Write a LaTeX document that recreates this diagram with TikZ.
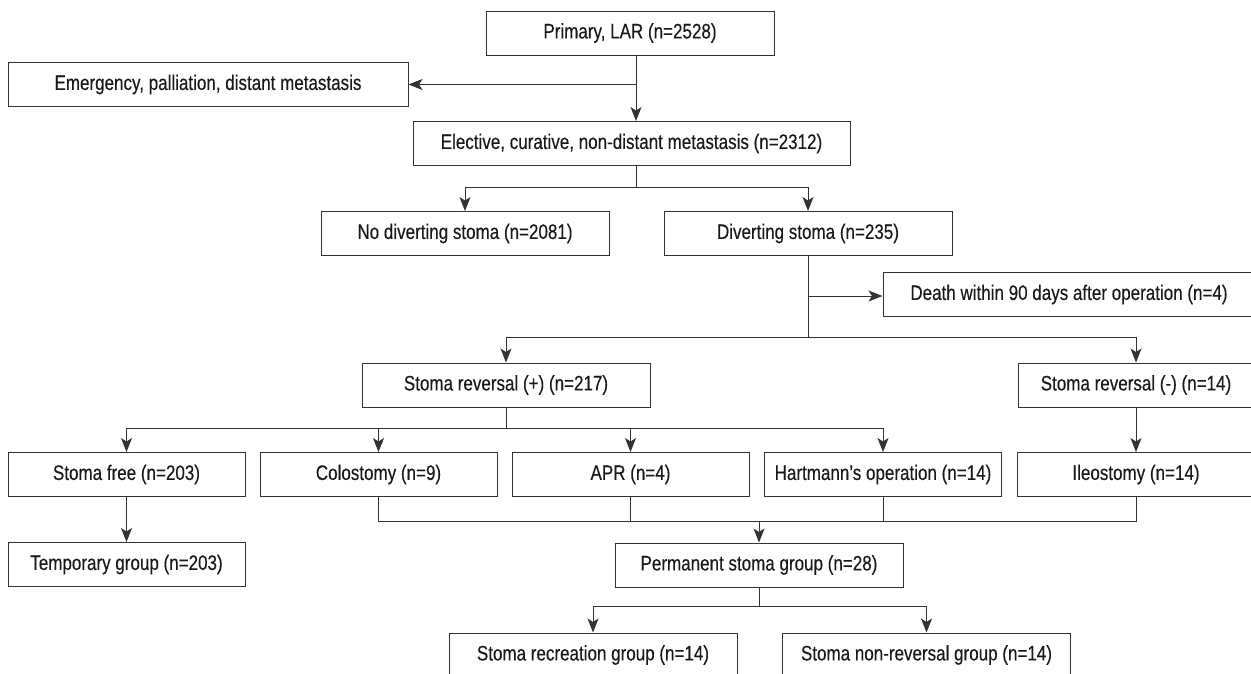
\documentclass[tikz,border=0pt]{standalone}
\usepackage{fontspec}
\setmainfont[FakeStretch=0.81]{Liberation Sans}
\newfontfamily\boxfont[FakeStretch=0.81,FakeBold=0.25]{Liberation Sans}
\usetikzlibrary{arrows.meta}
\begin{document}
\begin{tikzpicture}[x=1pt,y=-1pt,
  box/.style={draw=black!80, line width=1pt, rectangle, inner sep=0pt,
    minimum height=44pt, text=black!90, font=\boxfont\fontsize{21}{24}\selectfont},
  wide/.style={box, minimum width=288pt},
  narrow/.style={box, minimum width=237pt},
  conn/.style={draw=black!80, line width=1pt},
  arr/.style={conn, -{Stealth[length=14pt,width=11pt,inset=3.5pt]}}]
\useasboundingbox (0,0) rectangle (1251,673);
% nodes
\node[wide] (primary) at (630,33) {Primary, LAR (n=2528)};
\node[box, minimum width=400pt] (emerg) at (208,84.5) {Emergency, palliation, distant metastasis};
\node[box, minimum width=437pt] (elective) at (631.5,143.5) {Elective, curative, non-distant metastasis (n=2312)};
\node[wide] (nodiv) at (465,233.5) {No diverting stoma (n=2081)};
\node[wide] (div) at (808,233.5) {Diverting stoma (n=235)};
\node[box, minimum width=372pt] (death) at (1069,294.5) {Death within 90 days after operation (n=4)};
\node[wide] (srplus) at (506,385) {Stoma reversal (+) (n=217)};
\node[box, minimum width=236pt] (srminus) at (1136,385) {Stoma reversal (-) (n=14)};
\node[narrow] (sfree) at (126.5,474.5) {Stoma free (n=203)};
\node[narrow] (colo) at (378.5,474.5) {Colostomy (n=9)};
\node[narrow] (apr) at (630.5,474.5) {APR (n=4)};
\node[narrow] (hart) at (883,474.5) {Hartmann’s operation (n=14)};
\node[narrow] (ileo) at (1136,474.5) {Ileostomy (n=14)};
\node[narrow] (temp) at (126.5,564.5) {Temporary group (n=203)};
\node[wide] (perm) at (759,565) {Permanent stoma group (n=28)};
\node[wide] (srec) at (593,655) {Stoma recreation group (n=14)};
\node[wide] (snon) at (926.5,655) {Stoma non-reversal group (n=14)};
% branch coordinates
\coordinate (t1) at (636,55);
\coordinate (e1) at (636,84.5);
\coordinate (b1) at (636,187);
\coordinate (b2) at (808,337);
\coordinate (d1) at (808,296);
\coordinate (b3) at (506,428);
\coordinate (m) at (759,521);
\coordinate (b4) at (759,606);
% connectors
\draw[arr] (t1) -- (t1 |- elective.north);
\draw[arr] (e1) -- (emerg.east);
\draw[conn] (b1 |- elective.south) -- (b1);
\draw[arr] (b1) -| (nodiv.north);
\draw[arr] (b1) -| (div.north);
\draw[conn] (div.south) -- (b2);
\draw[arr] (d1) -- (d1 -| death.west);
\draw[arr] (b2) -| (srplus.north);
\draw[arr] (b2) -| (srminus.north);
\draw[conn] (srplus.south) -- (b3);
\draw[arr] (b3) -| (sfree.north);
\draw[arr] (b3) -| (colo.north);
\draw[arr] (b3) -| (apr.north);
\draw[arr] (b3) -| (hart.north);
\draw[arr] (srminus.south) -- (ileo.north);
\draw[arr] (sfree.south) -- (temp.north);
\draw[conn] (colo.south) |- (m);
\draw[conn] (ileo.south) |- (m);
\draw[conn] (apr.south) -- (apr.south |- m);
\draw[conn] (hart.south) -- (hart.south |- m);
\draw[arr] (m) -- (perm.north);
\draw[conn] (perm.south) -- (b4);
\draw[arr] (b4) -| (srec.north);
\draw[arr] (b4) -| (snon.north);
\end{tikzpicture}
\end{document}
